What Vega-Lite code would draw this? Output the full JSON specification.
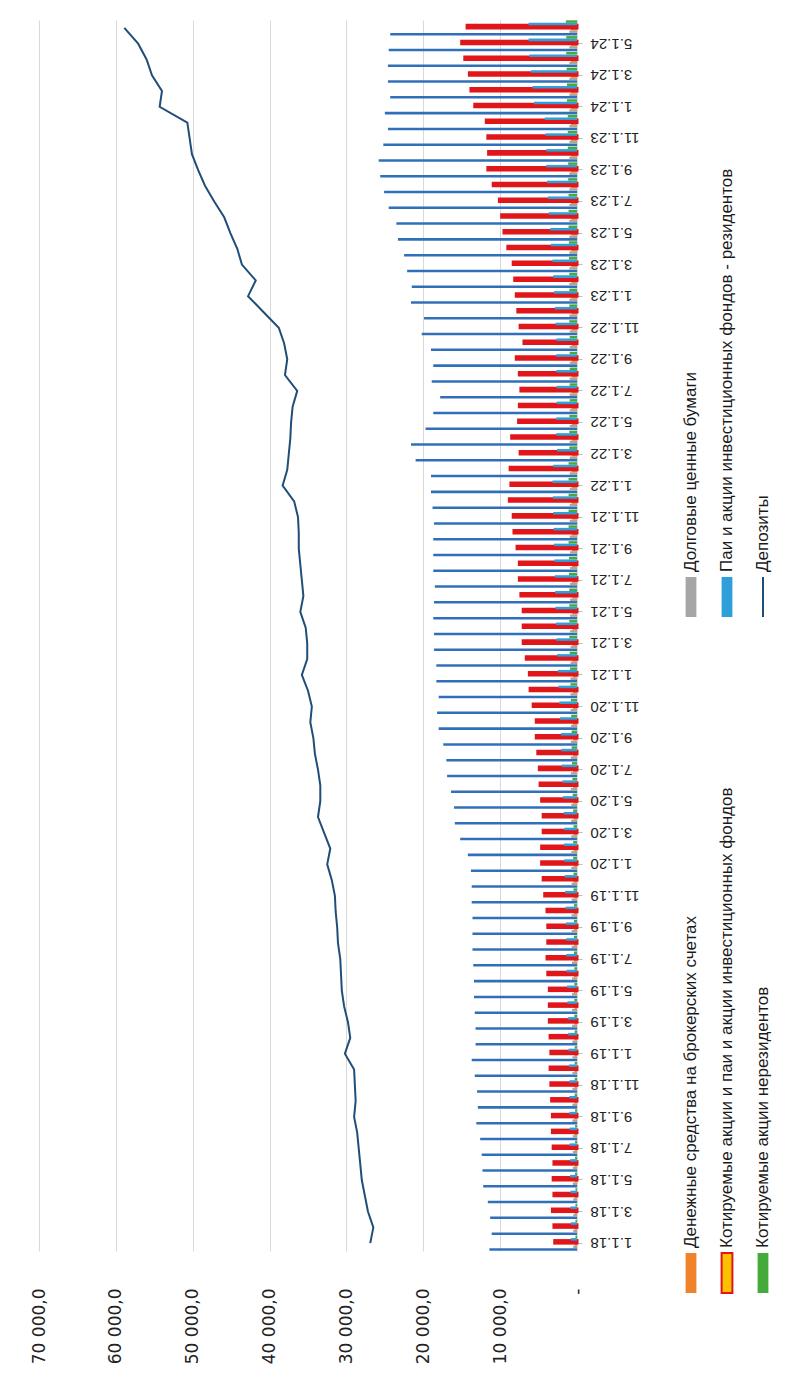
{
 "$schema": "https://vega.github.io/schema/vega-lite/v6.json",
 "padding": {"left": 30, "top": 20, "right": 0, "bottom": 0},
 "background": "white",
 "config": {"view": {"stroke": null}},
 "datasets": {
  "main": [
   {"d":"1.1.18","dep":26900,"other":11400,"quoted":2900,"funds":800,"foreign":200,"cash":300,"debt":500},
   {"d":"2.1.18","dep":26500,"other":11100,"quoted":3000,"funds":800,"foreign":200,"cash":300,"debt":500},
   {"d":"3.1.18","dep":27200,"other":11300,"quoted":3200,"funds":850,"foreign":200,"cash":300,"debt":500},
   {"d":"4.1.18","dep":27600,"other":11600,"quoted":3000,"funds":850,"foreign":200,"cash":300,"debt":500},
   {"d":"5.1.18","dep":28000,"other":12200,"quoted":3100,"funds":900,"foreign":250,"cash":300,"debt":550},
   {"d":"6.1.18","dep":28200,"other":12300,"quoted":3000,"funds":900,"foreign":250,"cash":300,"debt":550},
   {"d":"7.1.18","dep":28400,"other":12400,"quoted":3100,"funds":950,"foreign":250,"cash":300,"debt":550},
   {"d":"8.1.18","dep":28600,"other":12600,"quoted":3200,"funds":950,"foreign":250,"cash":350,"debt":550},
   {"d":"9.1.18","dep":29000,"other":13100,"quoted":3200,"funds":1000,"foreign":250,"cash":350,"debt":600},
   {"d":"10.1.18","dep":28800,"other":12900,"quoted":3300,"funds":1000,"foreign":300,"cash":350,"debt":600},
   {"d":"11.1.18","dep":28900,"other":13000,"quoted":3400,"funds":1000,"foreign":300,"cash":350,"debt":600},
   {"d":"12.1.18","dep":29000,"other":13300,"quoted":3500,"funds":1050,"foreign":300,"cash":350,"debt":600},
   {"d":"1.1.19","dep":30200,"other":13700,"quoted":3400,"funds":1100,"foreign":300,"cash":350,"debt":600},
   {"d":"2.1.19","dep":29500,"other":13200,"quoted":3500,"funds":1150,"foreign":300,"cash":350,"debt":600},
   {"d":"3.1.19","dep":29800,"other":13200,"quoted":3600,"funds":1200,"foreign":350,"cash":350,"debt":650},
   {"d":"4.1.19","dep":30300,"other":13300,"quoted":3600,"funds":1250,"foreign":350,"cash":350,"debt":650},
   {"d":"5.1.19","dep":30600,"other":13400,"quoted":3600,"funds":1300,"foreign":350,"cash":400,"debt":650},
   {"d":"6.1.19","dep":30700,"other":13400,"quoted":3800,"funds":1350,"foreign":350,"cash":400,"debt":650},
   {"d":"7.1.19","dep":30800,"other":13500,"quoted":3900,"funds":1400,"foreign":400,"cash":400,"debt":650},
   {"d":"8.1.19","dep":31100,"other":13600,"quoted":3800,"funds":1400,"foreign":400,"cash":400,"debt":700},
   {"d":"9.1.19","dep":31200,"other":13600,"quoted":3800,"funds":1450,"foreign":400,"cash":400,"debt":700},
   {"d":"10.1.19","dep":31400,"other":13600,"quoted":3900,"funds":1500,"foreign":400,"cash":400,"debt":700},
   {"d":"11.1.19","dep":31500,"other":13700,"quoted":4200,"funds":1550,"foreign":450,"cash":400,"debt":700},
   {"d":"12.1.19","dep":31900,"other":13700,"quoted":4400,"funds":1600,"foreign":450,"cash":450,"debt":700},
   {"d":"1.1.20","dep":32500,"other":13800,"quoted":4600,"funds":1650,"foreign":500,"cash":450,"debt":750},
   {"d":"2.1.20","dep":32100,"other":14200,"quoted":4600,"funds":1700,"foreign":500,"cash":450,"debt":750},
   {"d":"3.1.20","dep":32900,"other":15200,"quoted":4400,"funds":1650,"foreign":450,"cash":450,"debt":750},
   {"d":"4.1.20","dep":33700,"other":15900,"quoted":4400,"funds":1750,"foreign":500,"cash":450,"debt":750},
   {"d":"5.1.20","dep":33400,"other":16000,"quoted":4600,"funds":1850,"foreign":550,"cash":500,"debt":750},
   {"d":"6.1.20","dep":33400,"other":16400,"quoted":4800,"funds":1900,"foreign":600,"cash":500,"debt":800},
   {"d":"7.1.20","dep":33700,"other":16900,"quoted":4900,"funds":2000,"foreign":650,"cash":500,"debt":800},
   {"d":"8.1.20","dep":34100,"other":17000,"quoted":5100,"funds":2050,"foreign":700,"cash":500,"debt":800},
   {"d":"9.1.20","dep":34300,"other":17400,"quoted":5300,"funds":2100,"foreign":700,"cash":500,"debt":800},
   {"d":"10.1.20","dep":34700,"other":18000,"quoted":5300,"funds":2200,"foreign":750,"cash":550,"debt":800},
   {"d":"11.1.20","dep":34500,"other":18200,"quoted":5700,"funds":2300,"foreign":800,"cash":550,"debt":850},
   {"d":"12.1.20","dep":35000,"other":18000,"quoted":6100,"funds":2400,"foreign":850,"cash":550,"debt":850},
   {"d":"1.1.21","dep":35800,"other":18300,"quoted":6200,"funds":2500,"foreign":900,"cash":550,"debt":850},
   {"d":"2.1.21","dep":35100,"other":18300,"quoted":6600,"funds":2600,"foreign":950,"cash":600,"debt":850},
   {"d":"3.1.21","dep":35100,"other":18600,"quoted":7000,"funds":2700,"foreign":1000,"cash":600,"debt":850},
   {"d":"4.1.21","dep":35300,"other":18600,"quoted":7000,"funds":2750,"foreign":1000,"cash":600,"debt":900},
   {"d":"5.1.21","dep":36000,"other":18700,"quoted":7000,"funds":2800,"foreign":1000,"cash":600,"debt":900},
   {"d":"6.1.21","dep":35600,"other":18600,"quoted":7300,"funds":2850,"foreign":1000,"cash":600,"debt":900},
   {"d":"7.1.21","dep":35800,"other":18500,"quoted":7500,"funds":2900,"foreign":1050,"cash":650,"debt":900},
   {"d":"8.1.21","dep":36000,"other":18700,"quoted":7500,"funds":2950,"foreign":1050,"cash":650,"debt":900},
   {"d":"9.1.21","dep":36200,"other":18700,"quoted":7800,"funds":3000,"foreign":1100,"cash":650,"debt":900},
   {"d":"10.1.21","dep":36200,"other":18700,"quoted":8200,"funds":3050,"foreign":1100,"cash":650,"debt":950},
   {"d":"11.1.21","dep":36300,"other":18600,"quoted":8300,"funds":3100,"foreign":1100,"cash":650,"debt":950},
   {"d":"12.1.21","dep":36800,"other":18800,"quoted":8800,"funds":3150,"foreign":1100,"cash":700,"debt":950},
   {"d":"1.1.22","dep":38300,"other":19000,"quoted":8600,"funds":3200,"foreign":1100,"cash":700,"debt":950},
   {"d":"2.1.22","dep":37700,"other":19000,"quoted":8700,"funds":3100,"foreign":1100,"cash":700,"debt":950},
   {"d":"3.1.22","dep":37500,"other":21000,"quoted":7400,"funds":2600,"foreign":1000,"cash":700,"debt":950},
   {"d":"4.1.22","dep":37300,"other":21600,"quoted":8500,"funds":2700,"foreign":1000,"cash":700,"debt":950},
   {"d":"5.1.22","dep":37200,"other":19700,"quoted":7600,"funds":2700,"foreign":1000,"cash":700,"debt":950},
   {"d":"6.1.22","dep":37000,"other":18700,"quoted":7500,"funds":2650,"foreign":950,"cash":700,"debt":950},
   {"d":"7.1.22","dep":36400,"other":17800,"quoted":7300,"funds":2650,"foreign":950,"cash":700,"debt":950},
   {"d":"8.1.22","dep":38000,"other":18900,"quoted":7500,"funds":2700,"foreign":950,"cash":700,"debt":950},
   {"d":"9.1.22","dep":37700,"other":18700,"quoted":7900,"funds":2750,"foreign":950,"cash":700,"debt":950},
   {"d":"10.1.22","dep":38100,"other":19000,"quoted":6900,"funds":2700,"foreign":950,"cash":700,"debt":950},
   {"d":"11.1.22","dep":38800,"other":20200,"quoted":7400,"funds":2800,"foreign":1000,"cash":700,"debt":950},
   {"d":"12.1.22","dep":40800,"other":19900,"quoted":7700,"funds":2900,"foreign":1000,"cash":700,"debt":1000},
   {"d":"1.1.23","dep":42800,"other":21600,"quoted":7900,"funds":3000,"foreign":1000,"cash":750,"debt":1000},
   {"d":"2.1.23","dep":41800,"other":21500,"quoted":8100,"funds":3100,"foreign":1000,"cash":750,"debt":1000},
   {"d":"3.1.23","dep":43600,"other":22100,"quoted":8300,"funds":3200,"foreign":1050,"cash":750,"debt":1000},
   {"d":"4.1.23","dep":44200,"other":22500,"quoted":9000,"funds":3400,"foreign":1050,"cash":750,"debt":1000},
   {"d":"5.1.23","dep":45100,"other":23300,"quoted":9500,"funds":3500,"foreign":1100,"cash":750,"debt":1000},
   {"d":"6.1.23","dep":45900,"other":23500,"quoted":9800,"funds":3700,"foreign":1100,"cash":750,"debt":1000},
   {"d":"7.1.23","dep":47200,"other":24500,"quoted":10100,"funds":3800,"foreign":1100,"cash":800,"debt":1000},
   {"d":"8.1.23","dep":48400,"other":25100,"quoted":10900,"funds":3900,"foreign":1150,"cash":800,"debt":1000},
   {"d":"9.1.23","dep":49300,"other":25600,"quoted":11600,"funds":4000,"foreign":1150,"cash":800,"debt":1000},
   {"d":"10.1.23","dep":50100,"other":25800,"quoted":11500,"funds":4000,"foreign":1200,"cash":800,"debt":1000},
   {"d":"11.1.23","dep":50400,"other":25200,"quoted":11600,"funds":4100,"foreign":1200,"cash":800,"debt":1000},
   {"d":"12.1.23","dep":50700,"other":24600,"quoted":11800,"funds":4200,"foreign":1200,"cash":800,"debt":1000},
   {"d":"1.1.24","dep":54300,"other":25000,"quoted":13300,"funds":5600,"foreign":1300,"cash":800,"debt":1000},
   {"d":"2.1.24","dep":54000,"other":24300,"quoted":13800,"funds":5800,"foreign":1300,"cash":800,"debt":1000},
   {"d":"3.1.24","dep":55300,"other":24600,"quoted":14000,"funds":6000,"foreign":1350,"cash":800,"debt":1000},
   {"d":"4.1.24","dep":56000,"other":24600,"quoted":14600,"funds":6200,"foreign":1400,"cash":800,"debt":1000},
   {"d":"5.1.24","dep":57100,"other":24500,"quoted":15000,"funds":6300,"foreign":1400,"cash":800,"debt":1000},
   {"d":"6.1.24","dep":58900,"other":24300,"quoted":14300,"funds":6300,"foreign":1450,"cash":800,"debt":1000}
  ],
  "legend": [
   {"key":"cash","label":"Денежные средства на брокерских счетах"},
   {"key":"quoted","label":"Котируемые акции и паи и акции инвестиционных фондов"},
   {"key":"foreign","label":"Котируемые акции нерезидентов"},
   {"key":"debt","label":"Долговые ценные бумаги"},
   {"key":"funds","label":"Паи и акции инвестиционных фондов - резидентов"},
   {"key":"deposits","label":"Депозиты"}
  ]
 },
 "spacing": 34,
 "hconcat": [
  {
   "width": 538,
   "height": 1231,
   "data": {"name": "main"},
   "layer": [
    {
     "transform": [{"fold": ["other","debt","cash","quoted","funds","foreign"], "as": ["series","value"]}],
     "mark": {"type": "bar"},
     "encoding": {
      "y": {
       "field": "d", "type": "ordinal", "title": null,
       "scale": {"domain": ["1.1.18","2.1.18","3.1.18","4.1.18","5.1.18","6.1.18","7.1.18","8.1.18","9.1.18","10.1.18","11.1.18","12.1.18","1.1.19","2.1.19","3.1.19","4.1.19","5.1.19","6.1.19","7.1.19","8.1.19","9.1.19","10.1.19","11.1.19","12.1.19","1.1.20","2.1.20","3.1.20","4.1.20","5.1.20","6.1.20","7.1.20","8.1.20","9.1.20","10.1.20","11.1.20","12.1.20","1.1.21","2.1.21","3.1.21","4.1.21","5.1.21","6.1.21","7.1.21","8.1.21","9.1.21","10.1.21","11.1.21","12.1.21","1.1.22","2.1.22","3.1.22","4.1.22","5.1.22","6.1.22","7.1.22","8.1.22","9.1.22","10.1.22","11.1.22","12.1.22","1.1.23","2.1.23","3.1.23","4.1.23","5.1.23","6.1.23","7.1.23","8.1.23","9.1.23","10.1.23","11.1.23","12.1.23","1.1.24","2.1.24","3.1.24","4.1.24","5.1.24","6.1.24"], "reverse": true, "paddingInner": 0.04, "paddingOuter": 0.02},
       "axis": {
        "orient": "right",
        "values": ["1.1.18","3.1.18","5.1.18","7.1.18","9.1.18","11.1.18","1.1.19","3.1.19","5.1.19","7.1.19","9.1.19","11.1.19","1.1.20","3.1.20","5.1.20","7.1.20","9.1.20","11.1.20","1.1.21","3.1.21","5.1.21","7.1.21","9.1.21","11.1.21","1.1.22","3.1.22","5.1.22","7.1.22","9.1.22","11.1.22","1.1.23","3.1.23","5.1.23","7.1.23","9.1.23","11.1.23","1.1.24","3.1.24","5.1.24"],
        "labelAngle": 180, "labelAlign": "right", "labelBaseline": "middle",
        "labelPadding": 8, "tickSize": 5, "tickColor": "#BFBFBF", "domainColor": "#D9D9D9",
        "labelFont": "Liberation Sans", "labelFontSize": 15, "labelColor": "#222222",
        "labelOverlap": false, "grid": false
       }
      },
      "yOffset": {"field": "series", "type": "nominal", "scale": {"domain": ["foreign","funds","quoted","cash","debt","other"]}},
      "x": {
       "field": "value", "type": "quantitative", "title": null,
       "scale": {"domain": [0, 70000], "reverse": true, "nice": false},
       "axis": {
        "orient": "bottom", "values": [0,10000,20000,30000,40000,50000,60000,70000],
        "grid": true, "gridColor": "#D9D9D9", "gridWidth": 1, "domain": false, "ticks": false,
        "labelAngle": -90, "labelAlign": "right", "labelBaseline": "middle", "labelPadding": 37,
        "labelFont": "DejaVu Sans", "labelFontSize": 17, "labelColor": "#222222",
        "labelExpr": "datum.value == 0 ? '-' : replace(replace(format(datum.value, ',.1f'), ',', ' '), '.', ',')"
       }
      },
      "color": {"field": "series", "type": "nominal", "legend": null,
       "scale": {"domain": ["cash","quoted","foreign","debt","funds","other"], "range": ["#F0822A","#FFC000","#44AA3A","#A6A6A6","#2E9FD9","#2F70B8"]}},
      "stroke": {"condition": {"test": "datum.series == 'quoted'", "value": "#E0161B"}, "value": "transparent"},
      "strokeWidth": {"condition": {"test": "datum.series == 'quoted'", "value": 3}, "value": 0}
     }
    },
    {
     "mark": {"type": "line", "color": "#1F4E79", "strokeWidth": 2},
     "encoding": {
      "y": {"field": "d", "type": "ordinal", "title": null},
      "x": {"field": "dep", "type": "quantitative", "title": null},
      "order": {"value": null}
     }
    }
   ]
  },
  {
   "spacing": 4,
   "vconcat": [
    {
     "width": 108, "height": 552,
     "data": {"name": "legend"},
     "transform": [{"filter": {"field": "key", "oneOf": ["debt","funds","deposits"]}}],
     "mark": {"type": "text", "angle": 270, "align": "left", "baseline": "middle", "font": "Liberation Sans", "fontSize": 17, "color": "#1a1a1a"},
     "encoding": {
      "x": {"field": "key", "type": "nominal", "axis": null, "scale": {"domain": ["debt","funds","deposits"], "paddingInner": 0.7, "paddingOuter": 0.35}},
      "y": {"value": "height"},
      "text": {"field": "label"}
     }
    },
    {
     "width": 108, "height": 40,
     "data": {"name": "legend"},
     "layer": [
      {
       "transform": [{"filter": {"field": "key", "oneOf": ["debt","funds"]}}],
       "mark": {"type": "bar"},
       "encoding": {
        "x": {"field": "key", "type": "nominal", "axis": null, "scale": {"domain": ["debt","funds","deposits"], "paddingInner": 0.7, "paddingOuter": 0.35}},
        "color": {"field": "key", "type": "nominal", "legend": null,
         "scale": {"domain": ["cash","quoted","foreign","debt","funds","other"], "range": ["#F0822A","#FFC000","#44AA3A","#A6A6A6","#2E9FD9","#2F70B8"]}}
       }
      },
      {
       "transform": [{"filter": {"field": "key", "equal": "deposits"}}],
       "mark": {"type": "rule", "color": "#1F4E79", "strokeWidth": 2},
       "encoding": {
        "x": {"field": "key", "type": "nominal", "axis": null, "scale": {"domain": ["debt","funds","deposits"], "paddingInner": 0.7, "paddingOuter": 0.35}}
       }
      }
     ]
    },
    {
     "width": 108, "height": 626,
     "data": {"name": "legend"},
     "transform": [{"filter": {"field": "key", "oneOf": ["cash","quoted","foreign"]}}],
     "mark": {"type": "text", "angle": 270, "align": "left", "baseline": "middle", "font": "Liberation Sans", "fontSize": 17, "color": "#1a1a1a"},
     "encoding": {
      "x": {"field": "key", "type": "nominal", "axis": null, "scale": {"domain": ["cash","quoted","foreign"], "paddingInner": 0.7, "paddingOuter": 0.35}},
      "y": {"value": "height"},
      "text": {"field": "label"}
     }
    },
    {
     "width": 108, "height": 40,
     "data": {"name": "legend"},
     "transform": [{"filter": {"field": "key", "oneOf": ["cash","quoted","foreign"]}}],
     "mark": {"type": "bar"},
     "encoding": {
      "x": {"field": "key", "type": "nominal", "axis": null, "scale": {"domain": ["cash","quoted","foreign"], "paddingInner": 0.7, "paddingOuter": 0.35}},
      "color": {"field": "key", "type": "nominal", "legend": null,
       "scale": {"domain": ["cash","quoted","foreign","debt","funds","other"], "range": ["#F0822A","#FFC000","#44AA3A","#A6A6A6","#2E9FD9","#2F70B8"]}},
      "stroke": {"condition": {"test": "datum.key == 'quoted'", "value": "#E0161B"}, "value": "transparent"},
      "strokeWidth": {"condition": {"test": "datum.key == 'quoted'", "value": 2}, "value": 0}
     }
    }
   ]
  }
 ]
}
